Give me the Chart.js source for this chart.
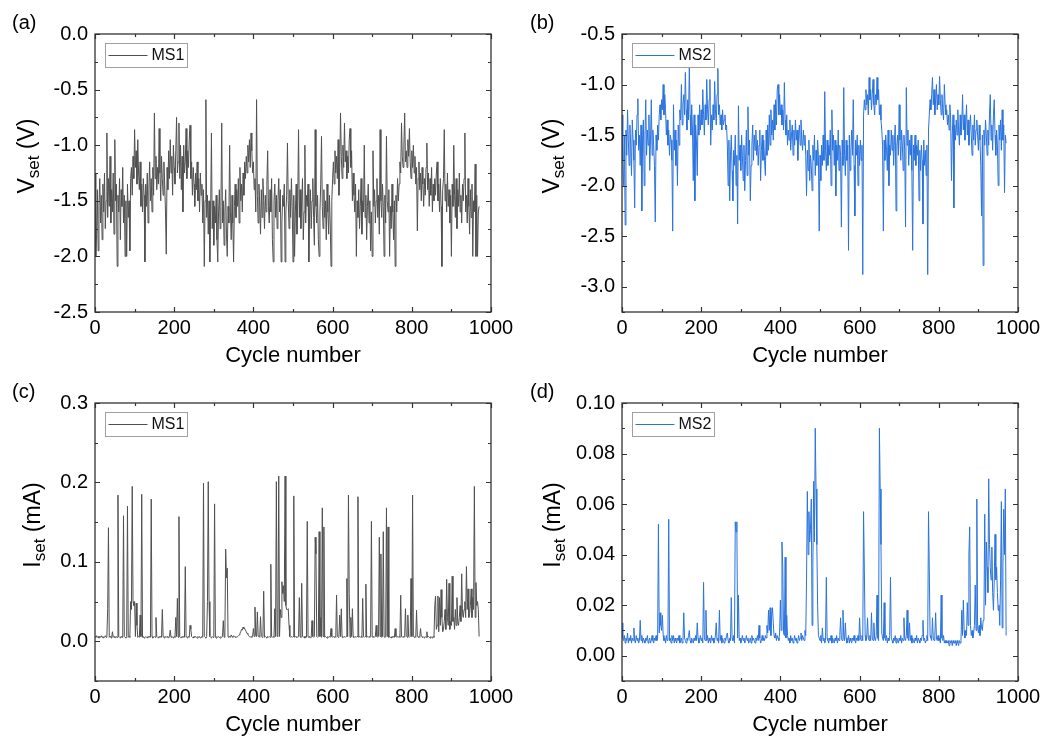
<!DOCTYPE html>
<html><head><meta charset="utf-8">
<script src="https://cdn.jsdelivr.net/npm/chart.js@4.4.0/dist/chart.umd.min.js"></script>
<style>
html,body{margin:0;padding:0;background:#fff;overflow:hidden;}
body{width:1045px;height:738px;position:relative;}
canvas{position:absolute;}
</style></head><body>
<canvas id="ca" width="518" height="369" style="left:0;top:0"></canvas>
<canvas id="cb" width="518" height="369" style="left:527px;top:0"></canvas>
<canvas id="cc" width="518" height="369" style="left:0;top:369px"></canvas>
<canvas id="cd" width="518" height="369" style="left:527px;top:369px"></canvas>
<script>
// ---- data (sampled every 2 cycles, cycles 0..970) ----
const cycleStep = 2;
const xTicks = [0, 200, 400, 600, 800, 1000];
const xMinorTicks = [100, 300, 500, 700, 900];

const vTicksA = [-2.5, -2.0, -1.5, -1.0, -0.5, 0.0];
const vMinorA = [-2.25, -1.75, -1.25, -0.75, -0.25];
const vTicksB = [-3.0, -2.5, -2.0, -1.5, -1.0, -0.5];
const vMinorB = [-3.25, -2.75, -2.25, -1.75, -1.25, -0.75];
const iTicksC = [0.0, 0.1, 0.2, 0.3];
const iMinorC = [-0.05, 0.05, 0.15, 0.25];
const iTicksD = [0.00, 0.02, 0.04, 0.06, 0.08, 0.10];
const iMinorD = [-0.01, 0.01, 0.03, 0.05, 0.07, 0.09];

const vsetMS1 = [
 -1.25,-2.0,-1.8,-1.4,-1.95,-1.55,-1.3,-1.7,-1.45,-1.85,
 -1.35,-1.6,-1.25,-1.75,-1.5,-0.89,-1.65,-1.3,-1.55,-1.1,
 -1.7,-1.4,-1.6,-1.25,-1.8,-0.95,-1.5,-1.35,-2.09,-1.45,
 -1.6,-1.3,-1.85,-1.4,-1.55,-1.2,-1.7,-1.45,-2.0,-1.5,
 -2.0,-1.35,-1.65,-1.5,-1.95,-1.3,-1.2,-1.45,-1.1,-1.3,
 -0.86,-1.2,-1.05,-1.35,-0.95,-1.25,-1.4,-1.15,-1.55,-1.35,
 -1.6,-1.3,-1.45,-2.05,-1.35,-1.55,-1.25,-1.7,-1.4,-1.15,
 -1.5,-1.3,-1.6,-1.2,-1.45,-0.71,-1.3,-1.1,-1.4,-1.2,
 -1.35,-0.85,-1.25,-1.5,-1.1,-1.3,-1.45,-1.15,-1.35,-1.6,
 -1.98,-1.2,-1.4,-1.05,-1.3,-0.95,-1.25,-1.1,-1.45,-1.0,
 -1.2,-1.35,-1.05,-0.75,-1.25,-1.15,-0.8,-1.3,-1.0,-1.4,
 -1.1,-1.6,-1.0,-1.25,-1.15,-0.85,-1.3,-1.05,-1.2,-0.95,
 -0.82,-1.3,-1.15,-1.45,-1.2,-1.35,-1.55,-1.25,-1.4,-1.15,
 -1.5,-1.3,-1.6,-1.25,-1.45,-1.35,-1.7,-1.4,-2.09,-1.5,
 -0.59,-1.65,-1.45,-1.8,-1.5,-2.05,-1.6,-0.89,-1.75,-1.5,
 -1.9,-1.55,-1.7,-1.45,-1.85,-2.05,-1.6,-1.4,-1.75,-1.55,
 -0.8,-1.7,-1.5,-1.9,-1.6,-1.4,-1.8,-2.0,-1.55,-1.7,
 -1.0,-1.6,-1.85,-1.45,-1.7,-2.05,-1.55,-1.35,-1.65,-1.4,
 -1.55,-1.3,-1.7,-1.2,-1.5,-1.35,-1.6,-1.25,-1.45,-1.15,
 -1.3,-1.1,-1.25,-1.0,-1.15,-0.95,-1.2,-0.89,-1.05,-1.25,
 -1.15,-1.4,-1.3,-1.6,-0.59,-1.45,-1.7,-1.35,-1.55,-1.8,
 -1.4,-1.65,-1.3,-1.5,-1.75,-1.45,-1.6,-1.35,-1.05,-1.55,
 -1.7,-1.4,-1.6,-1.3,-1.85,-2.05,-1.5,-1.35,-1.65,-1.45,
 -1.75,-1.5,-1.3,-1.6,-1.4,-2.05,-1.7,-1.45,-1.55,-1.35,
 -2.05,-1.6,-1.45,-0.98,-1.5,-1.75,-1.4,-1.65,-1.3,-1.55,
 -2.05,-1.45,-2.0,-1.6,-1.35,-1.8,-1.5,-0.86,-1.65,-1.4,
 -1.75,-1.5,-1.3,-1.85,-1.6,-1.0,-1.7,-1.45,-1.55,-1.35,
 -2.05,-1.6,-1.4,-1.75,-1.5,-1.3,-1.65,-1.9,-0.86,-1.55,
 -1.7,-1.45,-1.85,-2.0,-1.6,-1.35,-0.92,-1.55,-1.75,-1.4,
 -1.65,-1.5,-1.85,-1.35,-1.6,-1.8,-1.45,-1.7,-2.09,-1.5,
 -1.3,-1.15,-1.35,-1.05,-1.25,-1.1,-1.3,-0.95,-1.45,-1.2,
 -0.71,-1.1,-1.3,-1.0,-1.2,-0.8,-1.15,-1.05,-1.3,-1.1,
 -1.25,-0.95,-0.85,-1.2,-1.05,-1.5,-1.25,-1.45,-1.6,-1.35,
 -2.0,-1.5,-1.65,-1.4,-1.75,-1.55,-1.3,-1.8,-1.5,-1.6,
 -1.0,-1.65,-1.45,-1.85,-1.55,-1.35,-1.7,-1.5,-1.95,-1.6,
 -2.0,-1.05,-1.55,-1.4,-1.7,-1.5,-1.3,-1.65,-1.45,-1.8,
 -0.86,-1.5,-1.65,-1.35,-1.55,-2.0,-1.45,-1.7,-0.92,-1.5,
 -1.6,-1.4,-2.0,-1.55,-1.75,-1.35,-1.6,-1.85,-1.5,-2.09,
 -1.45,-1.6,-1.3,-1.5,-1.35,-1.15,-1.25,-0.8,-1.1,-1.2,
 -1.0,-0.71,-1.15,-1.05,-1.2,-0.95,-1.1,-0.85,-1.15,-1.3,
 -1.05,-1.2,-1.0,-1.25,-1.1,-1.35,-1.2,-1.77,-1.3,-1.15,
 -1.4,-1.25,-1.5,-1.2,-1.35,-1.55,-1.3,-1.45,-1.2,-0.98,
 -1.4,-1.25,-1.55,-1.3,-1.45,-1.2,-1.6,-1.35,-1.5,-1.3,
 -1.45,-1.25,-1.15,-1.5,-1.35,-1.6,-1.3,-1.55,-2.09,-1.4,
 -1.3,-0.86,-1.5,-1.35,-1.6,-1.25,-1.55,-1.4,-1.7,-1.45,
 -2.0,-1.35,-1.55,-1.0,-1.45,-1.65,-1.3,-1.75,-1.4,-1.55,
 -1.25,-1.6,-1.45,-1.7,-1.35,-1.5,-1.3,-0.89,-1.6,-1.45,
 -1.7,-1.3,-1.55,-1.8,-1.4,-1.65,-1.35,-2.0,-1.5,-1.6,
 -1.17,-2.0,-1.45,-2.0,-1.6,-1.55];

const vsetMS2 = [
 -1.3,-1.75,-2.0,-1.5,-2.39,-1.45,-1.7,-1.25,-1.55,-1.8,
 -1.4,-1.6,-1.9,-1.35,-1.55,-1.75,-2.22,-1.45,-1.6,-1.3,
 -1.14,-1.65,-1.5,-1.8,-1.4,-2.25,-1.55,-1.35,-2.0,-1.5,
 -1.15,-1.7,-1.45,-1.6,-1.3,-1.85,-1.55,-1.15,-1.7,-1.45,
 -1.6,-1.8,-2.36,-1.5,-1.65,-1.4,-1.55,-1.3,-1.2,-1.35,
 -1.15,-1.25,-1.0,-1.3,-1.1,-1.25,-1.5,-1.35,-1.6,-1.45,
 -1.7,-1.5,-1.55,-1.75,-2.45,-1.2,-1.65,-1.45,-1.8,-1.55,
 -2.0,-1.4,-1.6,-1.25,-1.35,-1.0,-1.4,-1.2,-1.1,-1.3,
 -0.88,-1.25,-1.45,-1.15,-1.35,-0.82,-1.3,-1.5,-1.2,-1.45,
 -1.95,-1.3,-2.15,-1.4,-1.55,-1.9,-1.3,-1.5,-1.2,-1.45,
 -1.25,-1.4,-1.05,-1.3,-1.5,-1.2,-1.35,-0.95,-1.25,-1.4,
 -1.15,-0.95,-1.6,-1.3,-1.45,-1.2,-1.35,-0.97,-1.25,-1.4,
 -1.1,-0.84,-1.3,-1.2,-1.4,-1.3,-1.45,-1.25,-1.4,-1.35,
 -1.3,-1.45,-1.4,-1.6,-2.0,-1.55,-2.15,-1.7,-1.5,-1.85,
 -2.15,-1.65,-1.8,-1.5,-2.0,-1.7,-2.38,-1.21,-1.75,-1.6,
 -1.85,-1.5,-1.7,-1.95,-1.6,-2.05,-1.75,-1.45,-1.9,-1.22,
 -1.7,-1.55,-2.15,-1.8,-1.6,-1.4,-1.75,-1.5,-1.65,-1.45,
 -1.7,-1.55,-1.8,-1.6,-1.45,-1.95,-1.65,-1.5,-1.75,-1.55,
 -1.75,-1.9,-1.45,-1.7,-1.4,-1.65,-1.3,-1.6,-1.25,-1.5,
 -1.35,-1.55,-1.2,-1.45,-1.15,-1.4,-1.05,-1.0,-1.3,-1.1,
 -1.3,-1.2,-1.4,-1.25,-1.45,-0.98,-1.35,-1.5,-1.3,-1.6,
 -1.45,-1.55,-1.35,-1.65,-1.5,-1.4,-1.7,-1.45,-1.6,-1.35,
 -1.55,-1.45,-1.75,-1.5,-1.4,-1.6,-1.35,-1.55,-1.65,-1.45,
 -1.6,-1.5,-1.7,-2.1,-1.65,-1.85,-1.55,-1.95,-1.7,-1.8,
 -2.05,-1.6,-1.75,-1.5,-1.9,-1.65,-1.8,-1.55,-1.7,-2.45,
 -1.7,-1.95,-1.6,-1.8,-1.5,-1.75,-1.07,-1.65,-1.85,-1.55,
 -1.8,-1.6,-1.7,-1.45,-2.0,-1.25,-1.65,-1.5,-1.8,-1.55,
 -2.1,-1.6,-1.75,-1.45,-1.85,-1.6,-1.7,-2.41,-1.55,-1.8,
 -1.03,-1.7,-1.9,-1.55,-1.75,-1.6,-2.64,-1.5,-1.85,-1.65,
 -1.45,-1.7,-1.15,-1.8,-2.3,-1.55,-1.7,-1.5,-2.0,-1.6,
 -1.8,-1.55,-1.75,-1.6,-2.88,-1.3,-1.15,-1.25,-1.05,-1.2,
 -1.1,-1.3,-0.93,-1.15,-1.05,-1.25,-1.1,-0.95,-1.2,-1.3,
 -1.1,-1.2,-0.93,-1.15,-1.05,-1.3,-1.2,-1.35,-1.45,-1.6,
 -2.45,-1.55,-1.75,-1.5,-1.65,-1.85,-1.45,-2.0,-1.6,-1.7,
 -1.45,-1.65,-1.5,-1.8,-1.55,-1.4,-2.25,-1.6,-1.5,-1.7,
 -1.2,-1.55,-1.75,-1.45,-1.6,-1.85,-1.5,-1.65,-2.41,-1.03,
 -1.6,-1.45,-1.8,-1.55,-1.7,-1.5,-1.85,-2.64,-1.6,-1.75,
 -1.5,-1.8,-1.6,-1.7,-1.55,-2.15,-1.65,-1.85,-1.6,-1.75,
 -2.38,-1.55,-1.8,-1.65,-1.9,-1.6,-2.88,-1.45,-1.3,-1.15,
 -1.25,-1.1,-0.93,-1.2,-1.05,-1.3,-1.15,-1.0,-1.25,-1.1,
 -1.2,-0.92,-1.15,-1.3,-1.1,-1.25,-1.35,-1.0,-1.2,-1.3,
 -1.25,-1.4,-1.3,-1.45,-1.2,-1.35,-1.95,-1.5,-1.3,-2.22,
 -1.4,-1.55,-1.35,-1.5,-1.25,-1.45,-1.6,-1.3,-1.5,-1.4,
 -1.1,-1.45,-1.3,-1.55,-1.4,-1.2,-1.5,-1.35,-1.6,-1.45,
 -1.3,-1.5,-1.7,-1.4,-1.55,-1.3,-1.6,-1.45,-1.35,-1.5,
 -1.65,-1.4,-1.55,-1.8,-2.3,-1.5,-2.79,-1.45,-1.6,-1.35,
 -1.5,-1.7,-1.45,-1.6,-1.3,-1.1,-1.55,-1.4,-1.65,-1.3,
 -1.15,-1.5,-1.7,-1.45,-1.6,-2.0,-1.4,-1.55,-1.35,-1.65,
 -1.25,-1.55,-1.4,-2.07,-1.5,-1.58];

const isetMS1 = [
 0.006,0.005,0.007,0.005,0.006,0.004,0.006,0.005,0.007,0.005,
 0.006,0.004,0.005,0.007,0.005,0.006,0.041,0.143,0.005,0.006,
 0.005,0.004,0.012,0.005,0.006,0.005,0.004,0.006,0.005,0.184,
 0.006,0.005,0.004,0.006,0.005,0.005,0.158,0.006,0.005,0.004,
 0.006,0.170,0.005,0.006,0.005,0.05,0.04,0.195,0.05,0.045,
 0.05,0.006,0.048,0.02,0.005,0.006,0.005,0.033,0.006,0.185,
 0.005,0.006,0.004,0.005,0.006,0.005,0.004,0.006,0.005,0.006,
 0.005,0.179,0.006,0.004,0.005,0.006,0.005,0.03,0.006,0.005,
 0.004,0.006,0.005,0.006,0.005,0.04,0.006,0.005,0.004,0.006,
 0.005,0.006,0.005,0.004,0.006,0.014,0.005,0.006,0.005,0.004,
 0.006,0.005,0.03,0.006,0.054,0.005,0.157,0.006,0.005,0.004,
 0.006,0.005,0.006,0.005,0.094,0.006,0.005,0.004,0.006,0.005,
 0.02,0.015,0.006,0.005,0.004,0.006,0.005,0.006,0.005,0.004,
 0.006,0.005,0.006,0.004,0.005,0.006,0.005,0.199,0.006,0.005,
 0.004,0.006,0.05,0.201,0.05,0.006,0.005,0.004,0.006,0.005,
 0.006,0.173,0.005,0.004,0.006,0.005,0.006,0.005,0.004,0.006,
 0.005,0.006,0.026,0.005,0.006,0.116,0.08,0.092,0.006,0.005,
 0.006,0.005,0.008,0.006,0.005,0.007,0.006,0.005,0.006,0.005,
 0.006,0.007,0.008,0.01,0.012,0.015,0.014,0.018,0.016,0.016,
 0.014,0.012,0.01,0.009,0.007,0.006,0.005,0.006,0.005,0.006,
 0.016,0.006,0.043,0.008,0.006,0.037,0.007,0.006,0.005,0.031,
 0.006,0.005,0.006,0.063,0.005,0.006,0.005,0.004,0.006,0.005,
 0.006,0.005,0.097,0.006,0.005,0.006,0.005,0.041,0.006,0.201,
 0.006,0.008,0.208,0.006,0.04,0.03,0.075,0.06,0.07,0.05,
 0.208,0.045,0.04,0.04,0.041,0.02,0.006,0.005,0.006,0.005,
 0.006,0.183,0.005,0.006,0.005,0.006,0.005,0.006,0.055,0.006,
 0.005,0.073,0.006,0.005,0.006,0.004,0.006,0.005,0.151,0.006,
 0.005,0.006,0.004,0.005,0.026,0.006,0.005,0.006,0.131,0.11,
 0.006,0.005,0.006,0.138,0.006,0.03,0.005,0.168,0.006,0.144,
 0.005,0.006,0.005,0.004,0.006,0.005,0.006,0.005,0.016,0.006,
 0.005,0.006,0.005,0.006,0.005,0.058,0.006,0.005,0.006,0.033,
 0.006,0.041,0.005,0.006,0.005,0.006,0.005,0.006,0.079,0.006,
 0.184,0.06,0.005,0.03,0.006,0.041,0.005,0.006,0.005,0.006,
 0.005,0.006,0.182,0.005,0.006,0.005,0.006,0.005,0.054,0.006,
 0.005,0.006,0.072,0.005,0.006,0.005,0.006,0.005,0.006,0.151,
 0.006,0.005,0.006,0.005,0.006,0.02,0.006,0.005,0.006,0.131,
 0.006,0.11,0.005,0.006,0.138,0.006,0.005,0.006,0.168,0.006,
 0.144,0.005,0.006,0.005,0.004,0.006,0.005,0.006,0.005,0.016,
 0.006,0.005,0.006,0.005,0.006,0.005,0.058,0.006,0.005,0.006,
 0.005,0.006,0.041,0.006,0.005,0.033,0.006,0.005,0.006,0.079,
 0.006,0.184,0.006,0.005,0.006,0.005,0.039,0.006,0.005,0.006,
 0.005,0.016,0.006,0.005,0.006,0.005,0.004,0.006,0.005,0.012,
 0.005,0.006,0.005,0.004,0.006,0.005,0.004,0.006,0.005,0.045,
 0.057,0.015,0.02,0.057,0.012,0.055,0.02,0.065,0.03,0.012,
 0.015,0.025,0.04,0.015,0.078,0.03,0.02,0.073,0.015,0.025,
 0.02,0.082,0.025,0.03,0.015,0.04,0.02,0.055,0.025,0.02,
 0.03,0.045,0.025,0.085,0.035,0.03,0.04,0.05,0.03,0.094,
 0.04,0.066,0.03,0.035,0.045,0.066,0.03,0.055,0.04,0.195,
 0.03,0.074,0.045,0.05,0.04,0.006];

const isetMS2 = [
 0.013,0.007,0.006,0.008,0.005,0.007,0.006,0.009,0.005,0.007,
 0.006,0.008,0.005,0.007,0.006,0.011,0.006,0.005,0.008,0.006,
 0.007,0.005,0.006,0.014,0.006,0.008,0.005,0.007,0.006,0.005,
 0.007,0.006,0.008,0.005,0.006,0.007,0.005,0.006,0.008,0.006,
 0.005,0.007,0.006,0.008,0.006,0.007,0.052,0.009,0.017,0.012,
 0.01,0.016,0.008,0.006,0.007,0.005,0.008,0.006,0.007,0.054,
 0.006,0.007,0.005,0.008,0.006,0.008,0.005,0.007,0.006,0.005,
 0.007,0.006,0.008,0.005,0.006,0.007,0.005,0.006,0.017,0.007,
 0.006,0.005,0.007,0.006,0.008,0.01,0.006,0.005,0.007,0.006,
 0.005,0.007,0.006,0.008,0.006,0.013,0.007,0.005,0.006,0.008,
 0.006,0.007,0.005,0.029,0.007,0.006,0.018,0.006,0.008,0.005,
 0.007,0.006,0.005,0.008,0.006,0.007,0.005,0.006,0.008,0.013,
 0.006,0.007,0.005,0.018,0.006,0.008,0.005,0.007,0.006,0.005,
 0.007,0.006,0.008,0.009,0.006,0.005,0.007,0.006,0.023,0.007,
 0.006,0.008,0.005,0.053,0.049,0.053,0.007,0.024,0.006,0.007,
 0.005,0.006,0.008,0.006,0.007,0.005,0.006,0.008,0.006,0.007,
 0.005,0.006,0.007,0.005,0.008,0.006,0.007,0.006,0.005,0.007,
 0.006,0.008,0.006,0.012,0.007,0.005,0.006,0.008,0.006,0.007,
 0.006,0.008,0.007,0.012,0.009,0.018,0.01,0.019,0.008,0.016,
 0.019,0.013,0.008,0.007,0.009,0.006,0.008,0.007,0.006,0.009,
 0.022,0.01,0.045,0.035,0.009,0.008,0.039,0.007,0.016,0.008,
 0.006,0.007,0.005,0.008,0.006,0.007,0.005,0.006,0.008,0.006,
 0.007,0.005,0.006,0.008,0.006,0.007,0.009,0.006,0.008,0.007,
 0.006,0.01,0.008,0.03,0.065,0.04,0.057,0.045,0.05,0.062,
 0.012,0.035,0.069,0.045,0.09,0.066,0.044,0.02,0.008,0.007,
 0.006,0.008,0.005,0.011,0.006,0.007,0.005,0.006,0.031,0.007,
 0.006,0.005,0.007,0.006,0.008,0.005,0.007,0.006,0.005,0.007,
 0.006,0.008,0.005,0.007,0.006,0.008,0.015,0.007,0.006,0.018,
 0.008,0.006,0.013,0.007,0.005,0.006,0.008,0.005,0.007,0.006,
 0.005,0.007,0.006,0.008,0.006,0.005,0.007,0.006,0.008,0.006,
 0.015,0.007,0.006,0.008,0.006,0.057,0.034,0.008,0.006,0.007,
 0.015,0.007,0.006,0.008,0.006,0.017,0.007,0.006,0.013,0.007,
 0.006,0.008,0.024,0.007,0.006,0.09,0.066,0.044,0.009,0.007,
 0.006,0.021,0.007,0.006,0.008,0.005,0.007,0.006,0.008,0.031,
 0.007,0.006,0.005,0.007,0.006,0.008,0.005,0.007,0.006,0.005,
 0.007,0.006,0.008,0.005,0.007,0.006,0.015,0.007,0.006,0.008,
 0.018,0.007,0.006,0.013,0.006,0.008,0.005,0.007,0.006,0.005,
 0.007,0.006,0.008,0.005,0.007,0.006,0.005,0.007,0.006,0.008,
 0.014,0.006,0.007,0.005,0.006,0.008,0.006,0.057,0.034,0.008,
 0.007,0.006,0.015,0.007,0.006,0.008,0.017,0.007,0.006,0.008,
 0.006,0.007,0.005,0.024,0.007,0.006,0.008,0.005,0.006,0.005,
 0.006,0.005,0.006,0.004,0.006,0.005,0.006,0.004,0.006,0.005,
 0.005,0.006,0.004,0.006,0.005,0.004,0.006,0.005,0.006,0.018,
 0.008,0.022,0.01,0.007,0.01,0.008,0.021,0.012,0.04,0.051,
 0.012,0.008,0.01,0.007,0.009,0.012,0.028,0.01,0.062,0.012,
 0.009,0.012,0.008,0.015,0.011,0.01,0.014,0.016,0.056,0.02,
 0.045,0.035,0.025,0.07,0.044,0.035,0.03,0.043,0.025,0.018,
 0.03,0.048,0.03,0.035,0.025,0.018,0.02,0.012,0.03,0.061,
 0.011,0.035,0.058,0.04,0.066,0.008];

const GRAY = '#505050';
const BLUE = '#2a73dd';
const FONT = '"Liberation Sans", Arial, Helvetica, sans-serif';

// ---- custom drawing: frame, inward ticks, legend box, panel label, y title ----
const framePlugin = {
  id: 'frame',
  afterDatasetsDraw(chart, args, o) {
    const ctx = chart.ctx, a = chart.chartArea;
    const xs = chart.scales.x, ys = chart.scales.y;
    ctx.save();
    ctx.strokeStyle = '#333';
    ctx.lineWidth = 1.2;
    ctx.beginPath();
    const xt = (list, len) => list.forEach(v => {
      const p = Math.round(xs.getPixelForValue(v)) + 0.5;
      ctx.moveTo(p, a.bottom); ctx.lineTo(p, a.bottom - len);
      ctx.moveTo(p, a.top); ctx.lineTo(p, a.top + len);
    });
    const yt = (list, len) => list.forEach(v => {
      const p = Math.round(ys.getPixelForValue(v)) + 0.5;
      ctx.moveTo(a.left, p); ctx.lineTo(a.left + len, p);
      ctx.moveTo(a.right, p); ctx.lineTo(a.right - len, p);
    });
    xt(o.xMajor, 5); xt(o.xMinor, 3);
    yt(o.yMajor, 5); yt(o.yMinor, 3);
    ctx.stroke();
    ctx.lineWidth = 1.3;
    ctx.strokeRect(a.left, a.top, a.right - a.left, a.bottom - a.top);

    // legend box
    const lx = a.left + 10.5, ly = a.top + 9.5;
    ctx.lineWidth = 1;
    ctx.strokeStyle = '#a0a0a0';
    ctx.fillStyle = '#fff';
    ctx.fillRect(lx, ly, 82, 24);
    ctx.strokeRect(lx, ly, 82, 24);
    ctx.strokeStyle = o.color;
    ctx.beginPath();
    ctx.moveTo(lx + 3, ly + 12); ctx.lineTo(lx + 42, ly + 12);
    ctx.stroke();
    ctx.fillStyle = '#111';
    ctx.font = '16px ' + FONT;
    ctx.textBaseline = 'middle';
    ctx.textAlign = 'left';
    ctx.fillText(o.series, lx + 46, ly + 12.5);

    // panel label
    ctx.font = '20px ' + FONT;
    ctx.textBaseline = 'alphabetic';
    ctx.fillStyle = '#000';
    ctx.fillText(o.panel, o.panelX, 29);

    // y title with subscript
    ctx.translate(o.titleX, 156);
    ctx.rotate(-Math.PI / 2);
    const big = '23px ' + FONT, small = '17px ' + FONT;
    ctx.font = big; const w1 = ctx.measureText(o.yMain).width;
    const w3 = ctx.measureText(o.yUnit).width;
    ctx.font = small; const w2 = ctx.measureText(o.ySub).width;
    let x0 = -(w1 + w2 + w3) / 2;
    ctx.font = big; ctx.fillText(o.yMain, x0, 0);
    ctx.font = small; ctx.fillText(o.ySub, x0 + w1, 5);
    ctx.font = big; ctx.fillText(o.yUnit, x0 + w1 + w2, 0);
    ctx.restore();
  }
};

function makeChart(id, values, color, series, ymin, ymax, yMajor, yMinor, digits, panel, panelX, titleX, yMain, yUnit) {
  const pts = values.map((v, i) => ({ x: i * cycleStep, y: v }));
  new Chart(document.getElementById(id), {
    type: 'line',
    data: { datasets: [{ label: series, data: pts, borderColor: color, borderWidth: 1,
      pointRadius: 0, tension: 0, fill: false }] },
    options: {
      responsive: false, animation: false, devicePixelRatio: 1,
      layout: { padding: { top: 34, right: 27, left: 0, bottom: 0 } },
      plugins: {
        legend: { display: false }, tooltip: { enabled: false },
        frame: { xMajor: xTicks, xMinor: xMinorTicks, yMajor, yMinor, color, series,
          panel, panelX, titleX, yMain, ySub: 'set', yUnit }
      },
      scales: {
        x: {
          type: 'linear', min: 0, max: 1000,
          afterBuildTicks: s => { s.ticks = xTicks.map(v => ({ value: v })); },
          afterFit: s => { s.height = 57; },
          grid: { display: false, drawTicks: false },
          border: { display: false },
          ticks: { font: { size: 20, family: FONT }, color: '#000', padding: 4,
            maxRotation: 0, autoSkip: false, callback: v => String(v) },
          title: { display: true, text: 'Cycle number', font: { size: 22, family: FONT },
            color: '#000', padding: { top: 2, bottom: 0 } }
        },
        y: {
          type: 'linear', min: ymin, max: ymax,
          afterBuildTicks: s => { s.ticks = yMajor.map(v => ({ value: v })); },
          afterFit: s => { s.width = 95; },
          grid: { display: false, drawTicks: false },
          border: { display: false },
          ticks: { font: { size: 20, family: FONT }, color: '#000', padding: 7,
            autoSkip: false, callback: v => Number(v).toFixed(digits) }
        }
      }
    },
    plugins: [framePlugin]
  });
}

makeChart('ca', vsetMS1, GRAY, 'MS1', -2.5, 0.0, vTicksA, vMinorA, 1, '(a)', 12, 34, 'V', ' (V)');
makeChart('cb', vsetMS2, BLUE, 'MS2', -3.25, -0.5, vTicksB, vMinorB, 1, '(b)', 3, 32, 'V', ' (V)');
makeChart('cc', isetMS1, GRAY, 'MS1', -0.05, 0.3, iTicksC, iMinorC, 1, '(c)', 12, 40, 'I', ' (mA)');
makeChart('cd', isetMS2, BLUE, 'MS2', -0.01, 0.10, iTicksD, iMinorD, 2, '(d)', 3, 33, 'I', ' (mA)');
</script>
</body></html>
